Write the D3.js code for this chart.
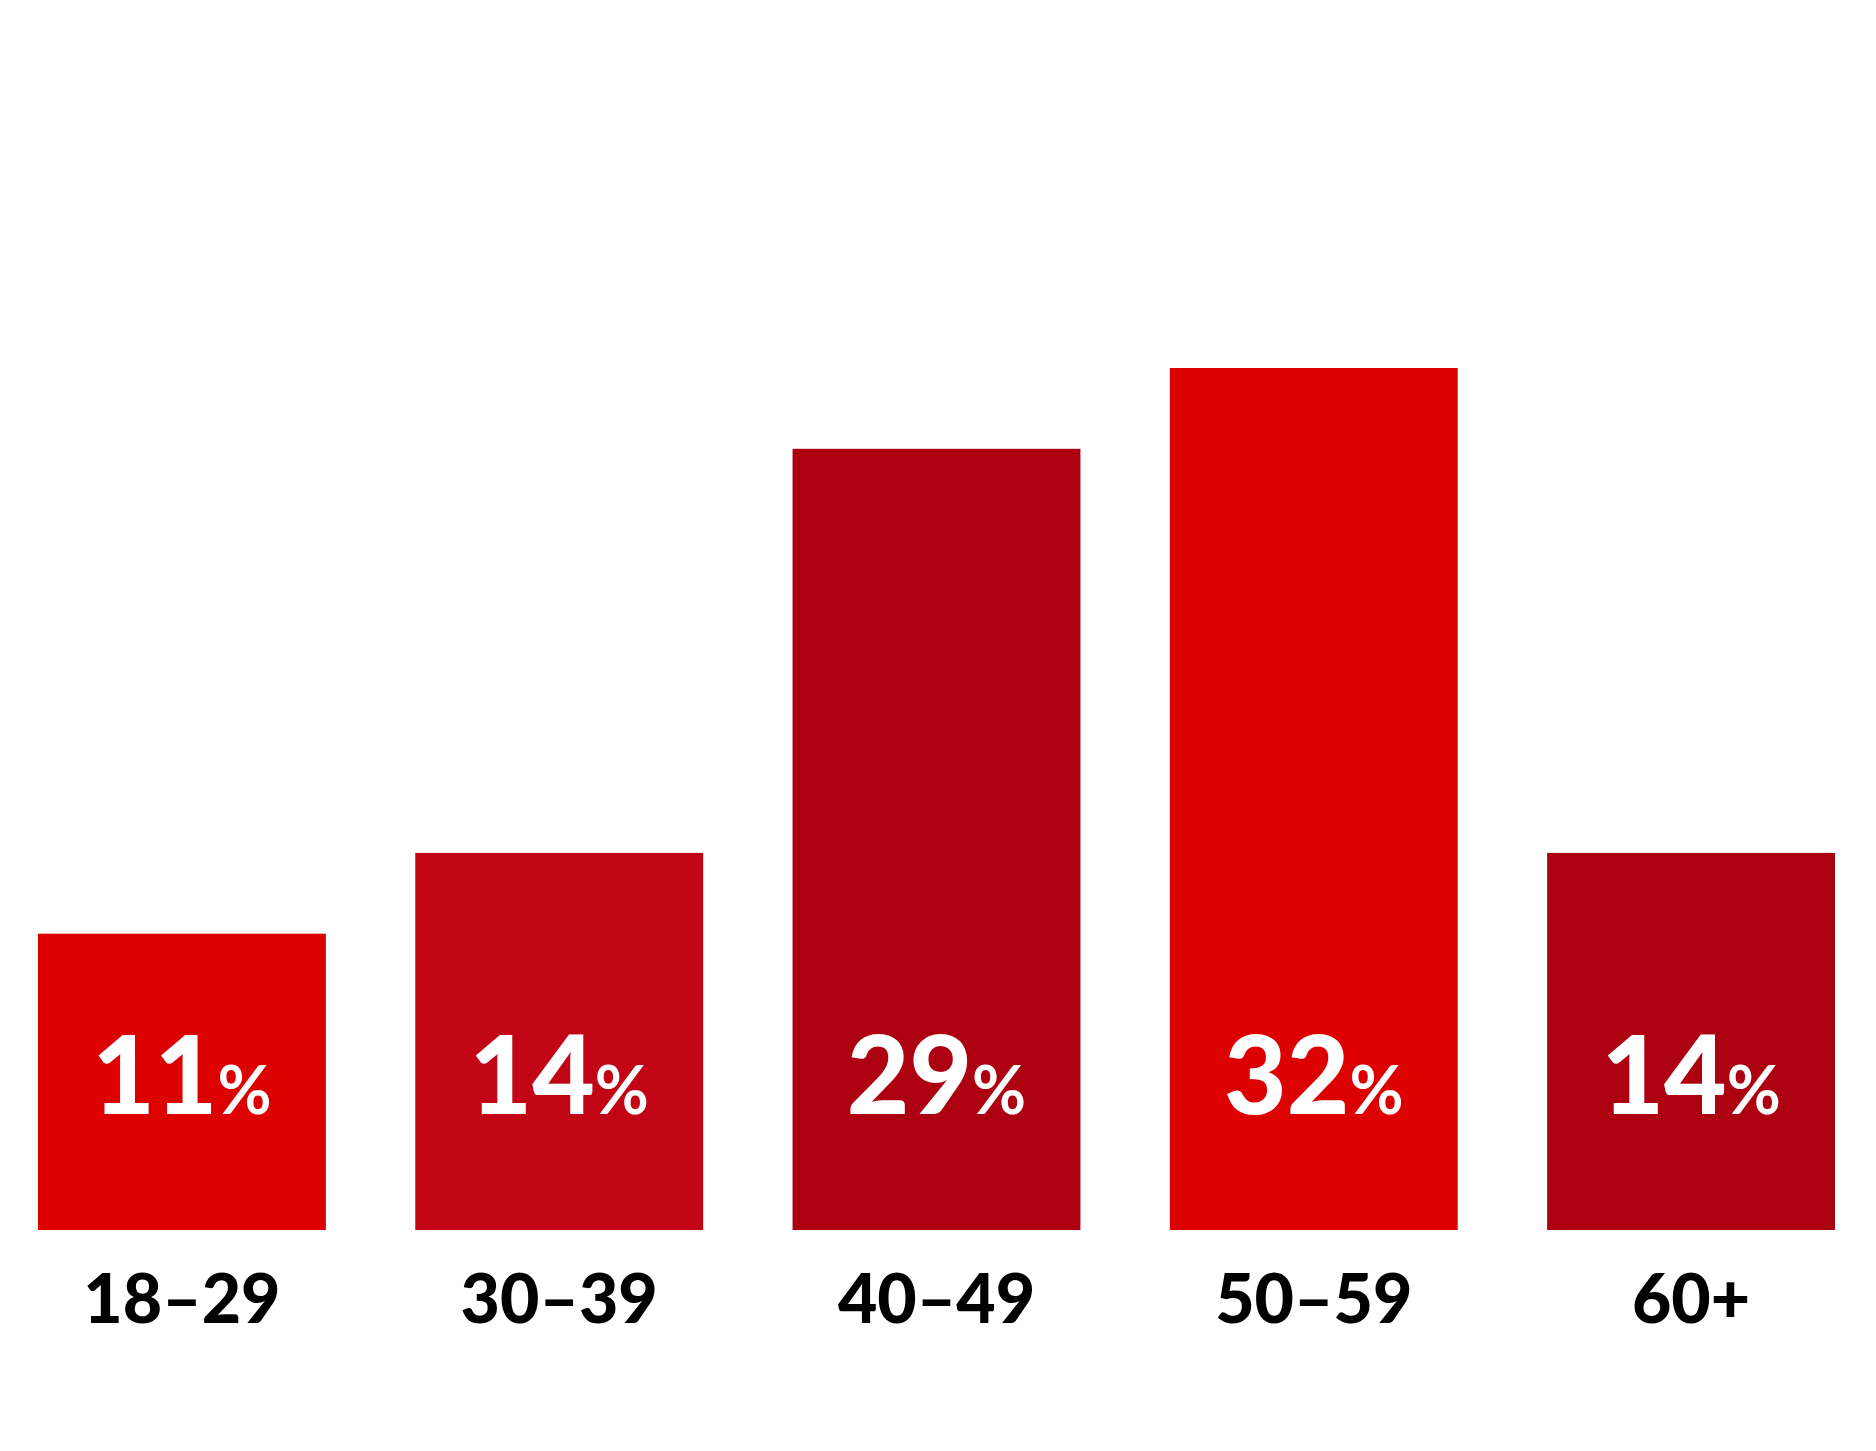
<!DOCTYPE html><html><head><meta charset="utf-8"><script src="https://cdn.jsdelivr.net/npm/d3@7"></script>
<style>body{margin:0;background:#fff}</style></head><body><svg id="c" width="1876" height="1451"></svg>
<script>
const categories=["18–29","30–39","40–49","50–59","60+"];
const values=[11,14,29,32,14];
const colors=["#dd0000","#c10515","#ad0010","#dd0000","#ad0010"];
const svg=d3.select("#c");
const base=1230;
const x=d3.scaleBand().domain(categories).range([38,1835]).paddingInner(0.237).paddingOuter(0);
const y=d3.scaleLinear().domain([0,32]).range([base,368]);
svg.selectAll("rect").data(values).join("rect")
 .attr("x",(d,i)=>x(categories[i])).attr("width",x.bandwidth())
 .attr("y",d=>y(d)).attr("height",d=>base-y(d)).attr("fill",(d,i)=>colors[i]);
const t=svg.selectAll("text.v").data(values).join("text").attr("class","v")
 .attr("x",(d,i)=>x(categories[i])+x.bandwidth()/2).attr("y",1114)
 .attr("text-anchor","middle").attr("fill","#fff").attr("font-family","Lato").attr("font-weight",900);
t.append("tspan").attr("font-size",108).text(d=>d);
t.append("tspan").attr("font-size",66).attr("font-weight",700).text("%");
svg.selectAll("text.c").data(categories).join("text").attr("class","c")
 .attr("x",d=>x(d)+x.bandwidth()/2).attr("y",1323).attr("text-anchor","middle")
 .attr("font-family","Lato").attr("font-weight",900).attr("font-size",68).attr("fill","#000").text(d=>d);
</script></body></html>
